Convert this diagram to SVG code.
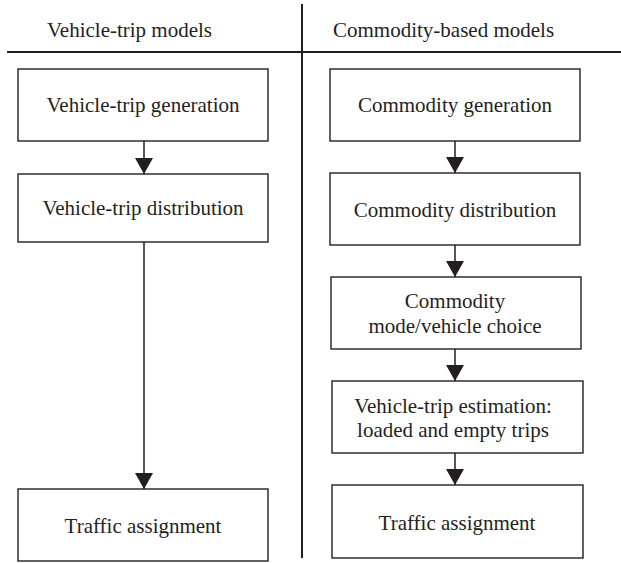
<svg xmlns="http://www.w3.org/2000/svg" width="621" height="563" viewBox="0 0 621 563">
<defs>
<style>
.box{fill:#fff;stroke:#231f20;stroke-width:1.4}
.t{font-size:21px;fill:#231f20;text-anchor:middle}
.h{font-size:21px;fill:#231f20}
.rule{stroke:#231f20;stroke-width:2;fill:none}
.edge{stroke:#231f20;stroke-width:1.5;fill:none}
</style>
<marker id="ah" markerWidth="16" markerHeight="18" refX="16" refY="9" orient="auto" markerUnits="userSpaceOnUse" viewBox="0 0 16 18">
<path d="M0,0 L16,9 L0,18 Z" fill="#231f20"/>
</marker>
</defs>
<rect width="621" height="563" fill="#fff"/>
<g font-family="'Liberation Serif', 'DejaVu Serif', serif">
<g id="frame">
<line class="rule" x1="302" y1="4" x2="302" y2="558"/>
<line class="rule" x1="7" y1="52" x2="621" y2="52"/>
<text class="h" x="47" y="37">Vehicle-trip models</text>
<text class="h" x="333" y="37">Commodity-based models</text>
</g>
<g id="connectors">
<line class="edge" x1="144" y1="141" x2="144" y2="174" marker-end="url(#ah)"/>
<line class="edge" x1="144" y1="242" x2="144" y2="489" marker-end="url(#ah)"/>
<line class="edge" x1="455" y1="141" x2="455" y2="173" marker-end="url(#ah)"/>
<line class="edge" x1="455" y1="245" x2="455" y2="277" marker-end="url(#ah)"/>
<line class="edge" x1="455" y1="349" x2="455" y2="381" marker-end="url(#ah)"/>
<line class="edge" x1="455" y1="453" x2="455" y2="485" marker-end="url(#ah)"/>
</g>
<g id="vt-gen"><rect class="box" x="18" y="69" width="250" height="72"/><text class="t" x="143" y="112">Vehicle-trip generation</text></g>
<g id="vt-dist"><rect class="box" x="18" y="174" width="250" height="68"/><text class="t" x="143" y="215">Vehicle-trip distribution</text></g>
<g id="vt-assign"><rect class="box" x="18" y="489" width="250" height="72"/><text class="t" x="143" y="533">Traffic assignment</text></g>
<g id="c-gen"><rect class="box" x="330" y="69" width="250" height="72"/><text class="t" x="455" y="112">Commodity generation</text></g>
<g id="c-dist"><rect class="box" x="330" y="173" width="250" height="72"/><text class="t" x="455" y="217">Commodity distribution</text></g>
<g id="c-mode"><rect class="box" x="331" y="277" width="250" height="72"/><text class="t" x="455" y="308">Commodity</text><text class="t" x="455" y="333">mode/vehicle choice</text></g>
<g id="c-vt"><rect class="box" x="332" y="381" width="251" height="72"/><text class="t" x="453" y="413">Vehicle-trip estimation:</text><text class="t" x="453" y="437">loaded and empty trips</text></g>
<g id="c-assign"><rect class="box" x="332" y="485" width="251" height="73"/><text class="t" x="457" y="530">Traffic assignment</text></g>
</g>
</svg>
